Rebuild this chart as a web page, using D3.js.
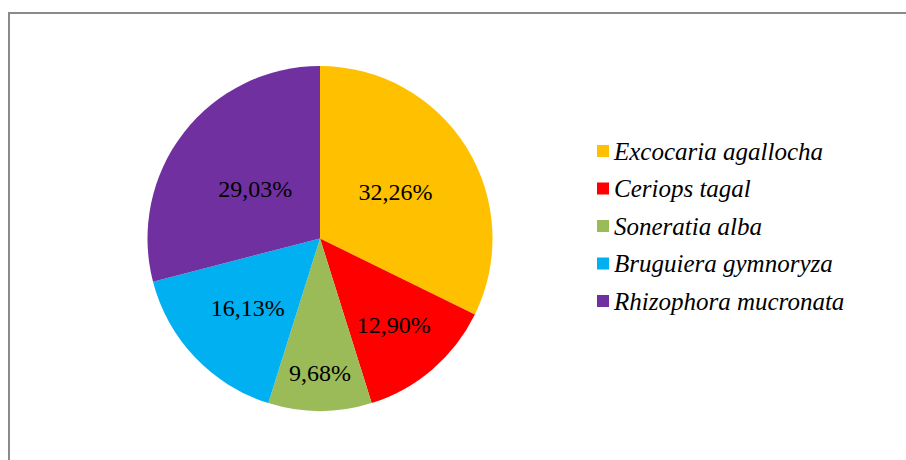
<!DOCTYPE html>
<html>
<head>
<meta charset="utf-8">
<script src="https://cdn.jsdelivr.net/npm/d3@7/dist/d3.min.js"></script>
<style>
  html, body { margin: 0; padding: 0; background: #fff; }
  svg { display: block; }
</style>
</head>
<body>
<svg id="chart" width="906" height="460"></svg>
<script>
// Mangrove species composition (% of individuals)
const species = ["Excocaria agallocha", "Ceriops tagal", "Soneratia alba", "Bruguiera gymnoryza", "Rhizophora mucronata"];
const shares = [32.26, 12.90, 9.68, 16.13, 29.03];
const labels = ["32,26%", "12,90%", "9,68%", "16,13%", "29,03%"];
const colors = ["#FFC000", "#FF0000", "#9BBB59", "#00B0F0", "#7030A0"];

const SERIF = '"Liberation Serif"';

const svg = d3.select("#chart");
const W = 906, H = 460;

// chart area frame
svg.append("rect")
  .attr("x", 9).attr("y", 13)
  .attr("width", W + 20).attr("height", H + 20)
  .attr("fill", "#fff")
  .attr("stroke", "#8a8a8a")
  .attr("stroke-width", 2);

const cx = 320, cy = 238.5, r = 172.5;

const pie = d3.pie().sort(null).value(d => d.v);
const arcs = pie(species.map((s, i) => ({ s, v: shares[i], label: labels[i], color: colors[i] })));
const arc = d3.arc().innerRadius(0).outerRadius(r);

const g = svg.append("g").attr("transform", `translate(${cx},${cy})`);

g.selectAll("path.slice")
  .data(arcs)
  .join("path")
  .attr("class", "slice")
  .attr("d", arc)
  .attr("fill", d => d.data.color);

// narrow slices push their label further toward the rim
const labelPos = d3.scaleLinear()
  .domain([0.6, 0.8, 1.0, 1.8, 2.05])
  .range([0.78, 0.66, 0.58, 0.47, 0.52])
  .clamp(true);

g.selectAll("text.val")
  .data(arcs)
  .join("text")
  .attr("class", "val")
  .attr("transform", d => {
    const a = (d.startAngle + d.endAngle) / 2;
    const k = labelPos(d.endAngle - d.startAngle) * r;
    return `translate(${Math.sin(a) * k},${-Math.cos(a) * k})`;
  })
  .attr("text-anchor", "middle")
  .attr("dy", "0.35em")
  .style("font-family", SERIF)
  .style("font-size", "24px")
  .style("fill", "#000")
  .text(d => d.data.label);

// legend
const legend = svg.append("g").attr("transform", "translate(597,0)");
const rowY = d3.scalePoint().domain(species).range([151, 301]);

const rows = legend.selectAll("g.row")
  .data(arcs)
  .join("g")
  .attr("class", "row")
  .attr("transform", d => `translate(0,${rowY(d.data.s)})`);

rows.append("rect")
  .attr("x", 0).attr("y", -6)
  .attr("width", 12).attr("height", 12)
  .attr("fill", d => d.data.color);

rows.append("text")
  .attr("x", 17)
  .attr("dy", "0.35em")
  .style("font-family", SERIF)
  .style("font-style", "italic")
  .style("font-size", "25px")
  .style("fill", "#000")
  .text(d => d.data.s);
</script>
</body>
</html>
